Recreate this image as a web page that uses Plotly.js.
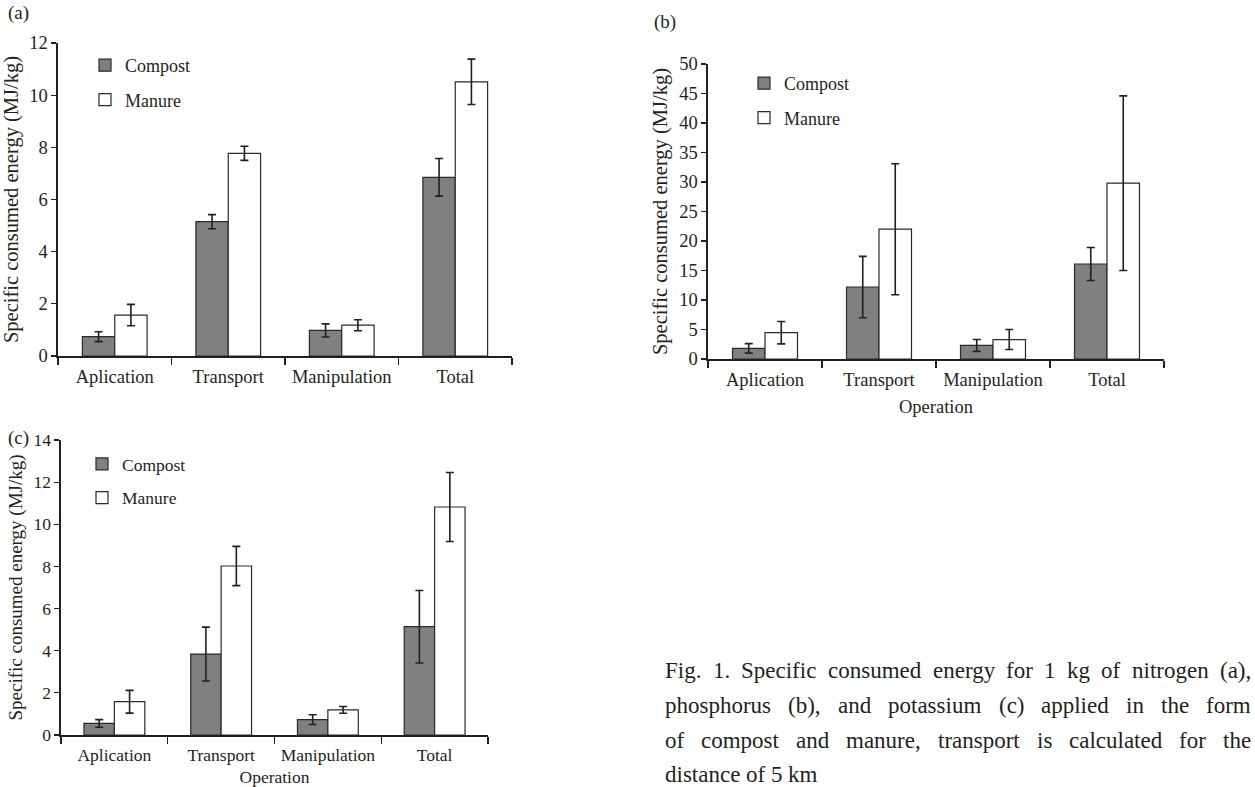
<!DOCTYPE html>
<html>
<head>
<meta charset="utf-8">
<script src="https://cdn.plot.ly/plotly-3.0.1.min.js"></script>
<style>html,body{margin:0;padding:0;background:#fff;}#chart{width:1255px;height:787px;}</style>
</head>
<body>
<div id="chart"></div>
<script>
// Categories
const categories = ["Aplication", "Transport", "Manipulation", "Total"];
const seriesNames = ["Compost", "Manure"];

// (a) nitrogen
const compostA = [0.74, 5.15, 0.98, 6.85];
const compostAErr = [0.19, 0.27, 0.25, 0.72];
const manureA = [1.57, 7.77, 1.18, 10.51];
const manureAErr = [0.41, 0.27, 0.21, 0.87];

// (b) phosphorus
const compostB = [1.8, 12.2, 2.3, 16.1];
const compostBErr = [0.8, 5.2, 1.0, 2.8];
const manureB = [4.46, 22.0, 3.3, 29.8];
const manureBErr = [1.9, 11.1, 1.7, 14.8];

// (c) potassium
const compostC = [0.55, 3.84, 0.73, 5.14];
const compostCErr = [0.18, 1.28, 0.23, 1.72];
const manureC = [1.58, 8.02, 1.19, 10.82];
const manureCErr = [0.54, 0.93, 0.16, 1.64];

// Tick values
const yTicksA = [0, 2, 4, 6, 8, 10, 12];
const yTicksB = [0, 5, 10, 15, 20, 25, 30, 35, 40, 45, 50];
const yTicksC = [0, 2, 4, 6, 8, 10, 12, 14];

const yTitle = "Specific consumed energy (MJ/kg)";
const xTitle = "Operation";
const captionLines = [
  "Fig. 1. Specific consumed energy for 1 kg of nitrogen (a),",
  "phosphorus (b), and potassium (c) applied in the form",
  "of compost and manure, transport is calculated for the",
  "distance of 5 km"
];

const FONT = "Liberation Serif, Times New Roman, serif";
const TXT = "#231f20";
const GREY = "#808083";
const EDGE = "#2a2a2a";

function bars(vals, errs, name, fill, xa, ya, leg) {
  return {
    type: "bar", x: categories, y: vals, name: name,
    xaxis: xa, yaxis: ya, legend: leg, legendgroup: leg + name,
    marker: {color: fill, line: {color: EDGE, width: 1.2}},
    error_y: {type: "data", array: errs, visible: true, color: TXT, thickness: 1.6, width: 4},
    hoverinfo: "skip"
  };
}

const data = [
  bars(compostA, compostAErr, seriesNames[0], GREY, "x", "y", "legend"),
  bars(manureA, manureAErr, seriesNames[1], "#ffffff", "x", "y", "legend"),
  bars(compostB, compostBErr, seriesNames[0], GREY, "x2", "y2", "legend2"),
  bars(manureB, manureBErr, seriesNames[1], "#ffffff", "x2", "y2", "legend2"),
  bars(compostC, compostCErr, seriesNames[0], GREY, "x3", "y3", "legend3"),
  bars(manureC, manureCErr, seriesNames[1], "#ffffff", "x3", "y3", "legend3")
];

const W = 1255, H = 787;
function px(x) { return x / W; }
function py(y) { return 1 - y / H; }

function xax(l, r, anchor, withTitle, fs, so) {
  const a = {
    domain: [px(l), px(r)], anchor: anchor, type: "category",
    showline: true, linecolor: TXT, linewidth: 1.6,
    ticks: "outside", tickson: "boundaries", ticklen: 7, tickcolor: TXT, tickwidth: 1.4,
    ticklabelstandoff: 3, tickangle: 0,
    showgrid: false, zeroline: false, fixedrange: true,
    tickfont: {family: FONT, size: fs, color: TXT}
  };
  if (withTitle) a.title = {text: xTitle, font: {family: FONT, size: fs, color: TXT}, standoff: so};
  return a;
}
function yax(top, bottom, anchor, max, ticks, fs, tfs) {
  return {
    domain: [py(bottom), py(top)], anchor: anchor, range: [0, max],
    tickvals: ticks, showline: true, linecolor: TXT, linewidth: 1.6,
    ticks: "outside", ticklen: 5, tickcolor: TXT, tickwidth: 1.2,
    showgrid: false, zeroline: false, fixedrange: true,
    tickfont: {family: FONT, size: fs, color: TXT},
    title: {text: yTitle, font: {family: FONT, size: tfs, color: TXT}, standoff: 6}
  };
}
function legend(x, y, fs) {
  return {
    x: px(x), y: py(y), xanchor: "left", yanchor: "top",
    bgcolor: "rgba(0,0,0,0)", borderwidth: 0,
    font: {family: FONT, size: fs, color: TXT},
    traceorder: "grouped", tracegroupgap: 8, itemwidth: 30
  };
}

const annotations = [
  {text: "(a)", x: px(6), y: py(0), xref: "paper", yref: "paper", xanchor: "left", yanchor: "top", showarrow: false, font: {family: FONT, size: 19, color: TXT}},
  {text: "(b)", x: px(652), y: py(9), xref: "paper", yref: "paper", xanchor: "left", yanchor: "top", showarrow: false, font: {family: FONT, size: 19, color: TXT}},
  {text: "(c)", x: px(6), y: py(425), xref: "paper", yref: "paper", xanchor: "left", yanchor: "top", showarrow: false, font: {family: FONT, size: 19, color: TXT}}
];

// Caption, justified like the printed figure
const CAP_SIZE = 23;
const capLeft = 664, capRight = 1250;
const capMid = [670, 705, 740, 774];
const cv = document.createElement("canvas").getContext("2d");
cv.font = CAP_SIZE + 'px "Liberation Serif"';
captionLines.forEach((line, i) => {
  const words = line.split(" ");
  const widths = words.map(w => cv.measureText(w).width);
  const total = widths.reduce((s, v) => s + v, 0);
  const last = i === captionLines.length - 1;
  const gap = last ? cv.measureText(" ").width : (capRight - capLeft - total) / (words.length - 1);
  let x = capLeft;
  words.forEach((w, j) => {
    annotations.push({
      text: w, x: px(x), y: py(capMid[i]), xref: "paper", yref: "paper",
      xanchor: "left", yanchor: "middle", showarrow: false, borderpad: 0,
      font: {family: FONT, size: CAP_SIZE, color: TXT}
    });
    x += widths[j] + gap;
  });
});

const layout = {
  width: W, height: H, margin: {l: 0, r: 0, t: 0, b: 0},
  paper_bgcolor: "#fff", plot_bgcolor: "rgba(0,0,0,0)",
  barmode: "group", bargap: 0.43, bargroupgap: 0,
  showlegend: true,
  xaxis: xax(58, 512, "y", false, 18.5, 11),
  yaxis: yax(43, 356, "x", 12, yTicksA, 18.5, 20.5),
  xaxis2: xax(708, 1164, "y2", true, 18.5, 11),
  yaxis2: yax(64, 359, "x2", 50, yTicksB, 18.5, 20.5),
  xaxis3: xax(61, 488, "y3", true, 17.5, 9),
  yaxis3: yax(440, 735, "x3", 14, yTicksC, 17.5, 19),
  legend: legend(85, 47, 18),
  legend2: legend(744, 65, 18),
  legend3: legend(82, 446, 17.5),
  annotations: annotations
};

Plotly.newPlot("chart", data, layout, {staticPlot: true, displayModeBar: false});
</script>
</body>
</html>
